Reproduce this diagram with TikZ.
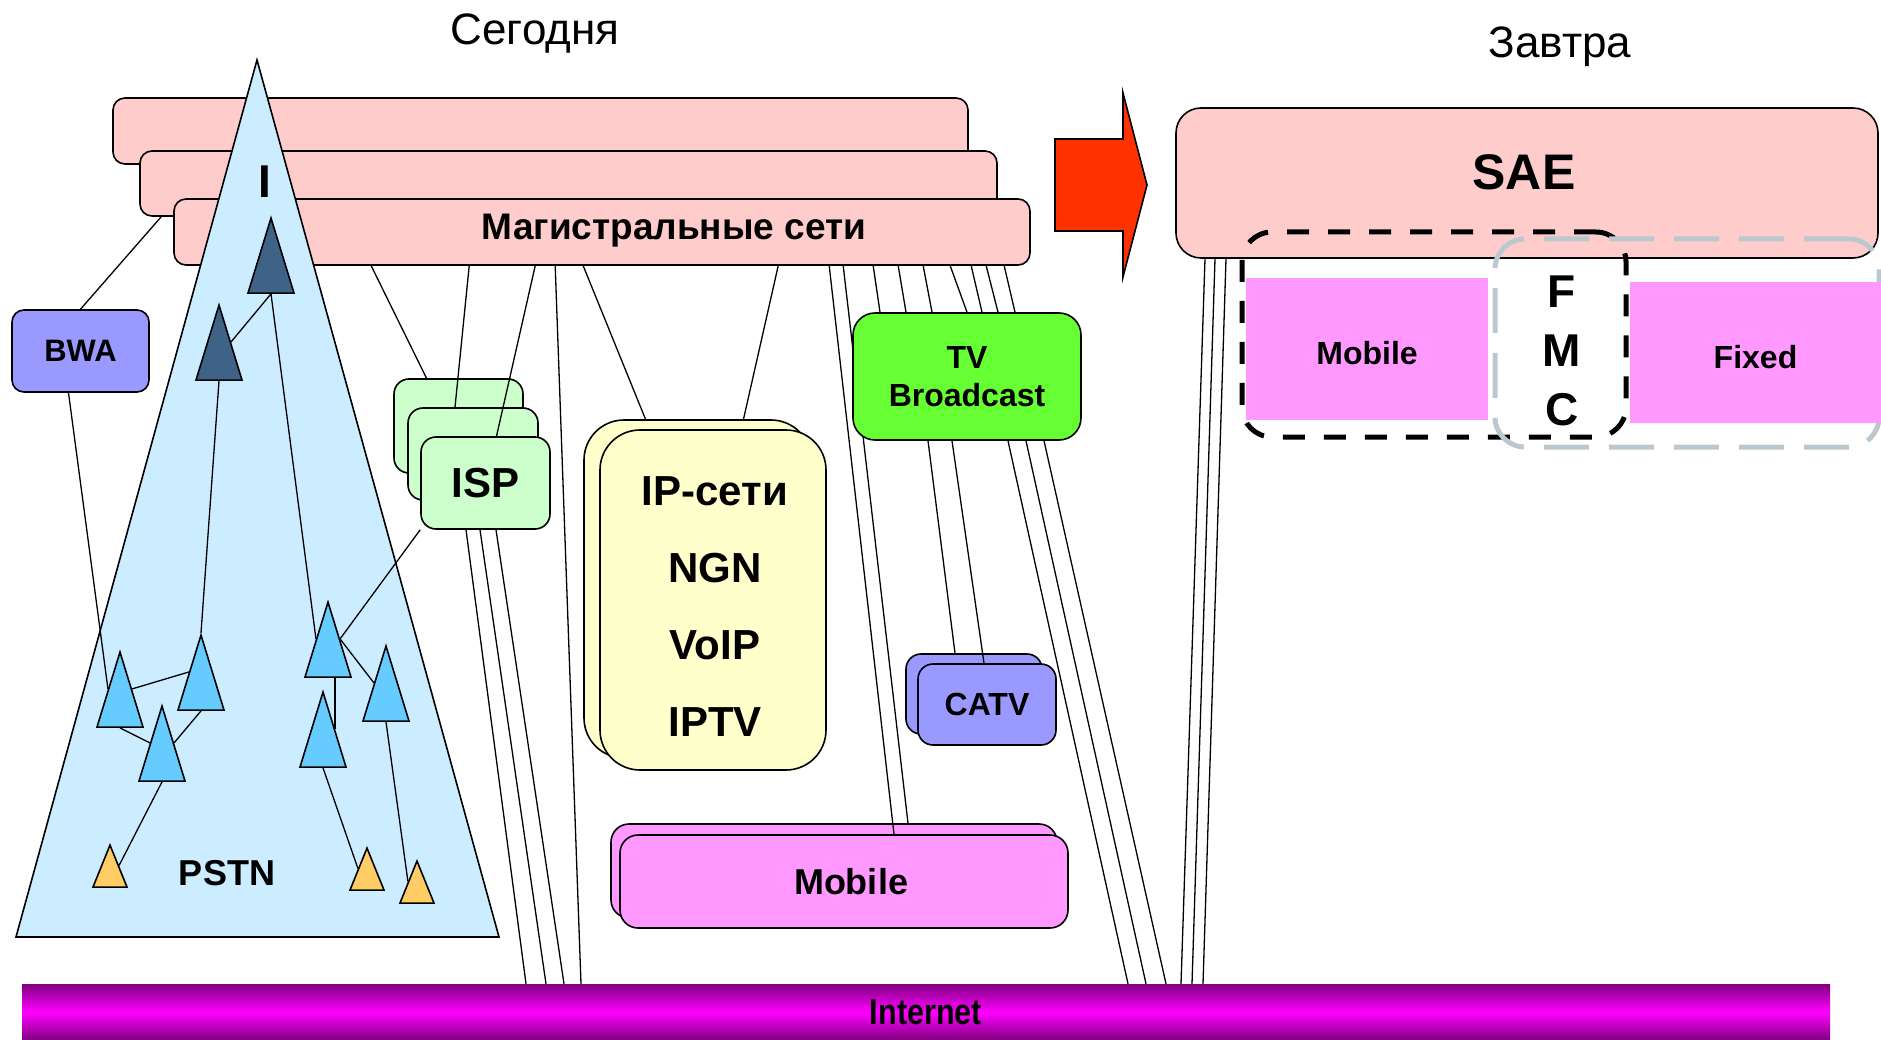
\documentclass[tikz,border=0pt]{standalone}
\usepackage{fontspec}
\setmainfont{Liberation Sans}
\newfontfamily\narrowfont[FakeStretch=0.85]{Liberation Sans}
\usetikzlibrary{shapes.geometric}
\definecolor{bbpink}{HTML}{FFCCCC}
\definecolor{conecol}{HTML}{CCECFF}
\definecolor{darktri}{HTML}{3F6287}
\definecolor{bluetri}{HTML}{66CCFF}
\definecolor{yeltri}{HTML}{FFCC66}
\definecolor{bwacol}{HTML}{9999FF}
\definecolor{ispcol}{HTML}{CCFFCC}
\definecolor{ipcol}{HTML}{FFFFCC}
\definecolor{tvcol}{HTML}{66FF33}
\definecolor{mobcol}{HTML}{FF99FF}
\definecolor{fmcgrey}{HTML}{BCC8CF}
\definecolor{arrowred}{HTML}{FF3300}
\definecolor{inetdark}{HTML}{800080}
\definecolor{inetmid}{HTML}{FF00FF}
\newcommand{\txt}[2]{\fontsize{#1}{#2}\selectfont\bfseries}

\begin{document}
\begin{tikzpicture}[x=1pt, y=-1pt,
  box/.style={draw, line width=1.6pt, rounded corners=12pt, inner sep=0pt},
  conn/.style={line width=1.3pt},
  tri/.style={isosceles triangle, isosceles triangle stretches, shape border rotate=90,
    draw, line width=1.6pt, anchor=apex, inner sep=0pt, minimum width=46pt, minimum height=75pt},
  ytri/.style={tri, fill=yeltri, minimum width=34pt, minimum height=42pt}]
  \useasboundingbox (0,0) rectangle (1881,1040);

  \node [font=\fontsize{44}{48}\selectfont] (today) at (535,34) {Сегодня};
  \node [font=\fontsize{44}{48}\selectfont] (tomorrow) at (1560,47) {Завтра};

  \node [box, fill=bbpink, minimum width=855pt, minimum height=66pt] (bb1) at (540.5,131) {};
  \node [box, fill=bbpink, minimum width=857pt, minimum height=65pt] (bb2) at (568.5,183.5) {};
  \node [box, fill=bbpink, minimum width=856pt, minimum height=66pt] (bb3) at (602,232) {};
  \node [font=\txt{37}{40}] (bbname) at (674,231) {Магистральные сети};

  \draw [line width=1.6pt, fill=conecol] (257,60) -- (499,937) -- (16,937) -- cycle;
  \node [font=\txt{46}{50}] (conei) at (265,182) {I};
  \node [font=\txt{36}{40}] (pstn) at (227,873) {PSTN};

  \node [box, fill=mobcol, rounded corners=18pt, minimum width=446pt, minimum height=94pt] (mob1) at (834,871) {};
  \node [box, fill=mobcol, rounded corners=18pt, minimum width=448pt, minimum height=93pt] (mob2) at (844,881.5) {};
  \node [font=\txt{36}{40}] (mobname) at (851,882) {Mobile};
  \draw [conn] ([xshift=656pt]bb3.south west) -- ([xshift=50pt]mob2.north);
  \draw [conn] ([xshift=670pt]bb3.south west) -- ([xshift=74pt]mob1.north);

  \node [tri, fill=darktri] (t1) at (271,216) {};
  \node [tri, fill=darktri] (t2) at (219,303) {};
  \node [tri, fill=bluetri] (l1) at (120,650) {};
  \node [tri, fill=bluetri] (l2) at (201,633) {};
  \node [tri, fill=bluetri] (l3) at (162,704) {};
  \node [tri, fill=bluetri] (l4) at (328,600) {};
  \node [tri, fill=bluetri] (l5) at (386,644) {};
  \node [tri, fill=bluetri] (l6) at (323,690) {};
  \node [ytri] (y1) at (110,843) {};
  \node [ytri] (y2) at (367,846) {};
  \node [ytri] (y3) at (417,859) {};

  \node [box, fill=bwacol, minimum width=137pt, minimum height=82pt, font=\txt{31}{34}] (bwa) at (80.5,351) {BWA};
  \node [box, fill=ispcol, rounded corners=15pt, minimum width=129pt, minimum height=94pt] (isp1) at (458.5,426) {};
  \node [box, fill=ispcol, rounded corners=15pt, minimum width=130pt, minimum height=92pt] (isp2) at (473,454) {};
  \node [box, fill=ispcol, rounded corners=15pt, minimum width=129pt, minimum height=92pt, font=\txt{42}{46}] (isp3) at (485.5,483) {ISP};
  \node [box, fill=ipcol, rounded corners=40pt, minimum width=227pt, minimum height=338pt] (ip1) at (697.5,589) {};
  \node [box, fill=ipcol, rounded corners=40pt, minimum width=226pt, minimum height=340pt] (ip2) at (713,600) {};
  \node [font=\txt{42}{77}, align=center] (ipname) at (715,607) {IP-сети\\NGN\\VoIP\\IPTV};
  \node [box, fill=tvcol, rounded corners=22pt, minimum width=228pt, minimum height=127pt, font=\txt{32}{38}, align=center] (tv) at (967,376.5) {TV\\Broadcast};
  \node [box, fill=bwacol, rounded corners=15pt, minimum width=136pt, minimum height=80pt] (catv1) at (974,694) {};
  \node [box, fill=bwacol, rounded corners=15pt, minimum width=138pt, minimum height=81pt, font=\txt{32}{36}] (catv2) at (987,704.5) {CATV};
  \node [minimum width=1808pt, minimum height=56pt, top color=inetdark, bottom color=inetdark, middle color=inetmid,
    font=\narrowfont\fontsize{36}{40}\selectfont\bfseries] (inet) at (926,1012) {Internet};

  \draw [line width=1.6pt, fill=arrowred] (1055,139) -- (1123,139) -- (1123,93) -- (1147,185)
    -- (1123,277) -- (1123,231) -- (1055,231) -- cycle;

  \node [box, fill=bbpink, rounded corners=25pt, minimum width=702pt, minimum height=150pt] (sae) at (1527,183) {};
  \node [font=\txt{50}{54}] (saename) at (1524,172) {SAE};
  \node [draw, line width=5pt, dash pattern=on 22pt off 19pt, rounded corners=30pt,
    minimum width=384pt, minimum height=205pt] (fmcblack) at (1434,334.5) {};
  \node [draw=fmcgrey, line width=5pt, dash pattern=on 45pt off 20pt, rounded corners=30pt,
    minimum width=384pt, minimum height=208pt] (fmcgrey) at (1687,343) {};
  \node [fill=mobcol, minimum width=242pt, minimum height=142pt] (mobsae) at (1367,349) {};
  \node [font=\txt{32}{36}] (mobsaename) at (1367,353) {Mobile};
  \node [fill=mobcol, minimum width=251pt, minimum height=141pt] (fixed) at (1755.5,352.5) {};
  \node [font=\txt{32}{36}] (fixedname) at (1755.5,357) {Fixed};
  \node [font=\txt{46}{59}, align=center] (fmc) at (1562,351) {F\\M\\C};

  \draw [conn] ([xshift=22pt]bb2.south west) -- (bwa.north);
  \draw [conn] ([xshift=-12pt]bwa.south) -- (l1.left side);
  \draw [conn] (t2.right side) -- (t1.lower side);
  \draw [conn] (t1.lower side) -- (l4.left side);
  \draw [conn] (t2.lower side) -- (l2.apex);
  \draw [conn] (l1.right side) -- (l2.left side);
  \draw [conn] (l1.lower side) -- (l3.left side);
  \draw [conn] (l2.lower side) -- (l3.right side);
  \draw [conn] (l3.lower side) -- (y1.right side);
  \draw [conn] (l4.right side) -- (l5.left side);
  \draw [conn] (l6.right side |- l4.lower side) -- (l6.right side);
  \draw [conn] (l6.lower side) -- (y2.left side);
  \draw [conn] (l5.lower side) -- (y3.left side);
  \draw [conn] (isp3.south west) -- (l4.right side);

  \draw [conn] ([xshift=198pt]bb3.south west) -- ([xshift=-32pt]isp1.north);
  \draw [conn] ([xshift=296pt]bb3.south west) -- ([xshift=-18pt]isp2.north);
  \draw [conn] ([xshift=362pt]bb3.south west) -- ([xshift=11pt]isp3.north);
  \draw [conn] ([xshift=382pt]bb3.south west) -- ([xshift=-345pt]inet.north);
  \draw [conn] ([xshift=410pt]bb3.south west) -- ([xshift=-52pt]ip1.north);
  \draw [conn] ([xshift=605pt]bb3.south west) -- ([xshift=46pt]ip1.north);
  \foreach \p/\q in {700/-87, 725/-61, 750/-35, 777/0, 798/15, 813/31, 831/48}
    \draw [conn] ([xshift=\p pt]bb3.south west) -- ([xshift=\q pt]tv.north);

  \draw [conn] ([xshift=-39pt]tv.south) -- ([xshift=-19pt]catv1.north);
  \draw [conn] ([xshift=-15pt]tv.south) -- ([xshift=-3pt]catv2.north);
  \foreach \p/\q in {41/202, 59/220, 77/240}
    \draw [conn] ([xshift=\p pt]tv.south) -- ([xshift=\q pt]inet.north);
  \foreach \p/\q in {-19.5/-400, -5.5/-380, 10.5/-362}
    \draw [conn] ([xshift=\p pt]isp3.south) -- ([xshift=\q pt]inet.north);
  \foreach \p/\q in {-322/255, -312/266, -301/277}
    \draw [conn] ([xshift=\p pt]sae.south) -- ([xshift=\q pt]inet.north);
\end{tikzpicture}
\end{document}
